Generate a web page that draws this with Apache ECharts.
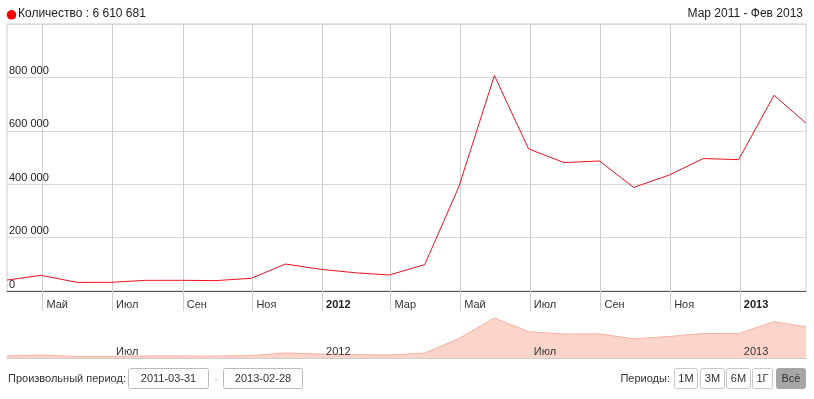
<!DOCTYPE html>
<html>
<head>
<meta charset="utf-8">
<script src="https://cdn.jsdelivr.net/npm/echarts@6/dist/echarts.min.js"></script>
<style>
html, body { margin: 0; padding: 0; background: #fff; }
#chart { width: 814px; height: 399px; }
</style>
</head>
<body>
<div id="chart"></div>
<script>
// месячные значения (конец месяца)
var dates = ['2011-03-31', '2011-04-30', '2011-05-31', '2011-06-30', '2011-07-31', '2011-08-31',
	'2011-09-30', '2011-10-31', '2011-11-30', '2011-12-31', '2012-01-31', '2012-02-29',
	'2012-03-31', '2012-04-30', '2012-05-31', '2012-06-30', '2012-07-31', '2012-08-31',
	'2012-09-30', '2012-10-31', '2012-11-30', '2012-12-31', '2013-01-31', '2013-02-28'];
var counts = [41000, 58700, 32500, 32500, 40000, 40000,
	39000, 47500, 101000, 81000, 68000, 60000,
	99000, 392000, 807000, 532000, 481000, 487000,
	388000, 434000, 496000, 492000, 733000, 628481];

var tickDates = ['2011-05-01', '2011-07-01', '2011-09-01', '2011-11-01', '2012-01-01', '2012-03-01',
	'2012-05-01', '2012-07-01', '2012-09-01', '2012-11-01', '2013-01-01'];
var tickLabels = ['Май', 'Июл', 'Сен', 'Ноя', '2012', 'Мар', 'Май', 'Июл', 'Сен', 'Ноя', '2013'];
var navDates = ['2011-07-01', '2012-01-01', '2012-07-01', '2013-01-01'];
var navLabels = ['Июл', '2012', 'Июл', '2013'];

var rangeFrom = '2011-03-31';
var rangeTo = '2013-02-28';
var periodButtons = ['1M', '3M', '6M', '1Г', 'Всё'];

var FONT = '"Liberation Sans", Arial, sans-serif';

function toTs(s) {
	var p = s.split('-');
	return Date.UTC(+p[0], p[1] - 1, +p[2]);
}
function fmtNum(v) {
	return String(v).replace(/\B(?=(\d{3})+(?!\d))/g, ' ');
}

var total = 0;
for (var i = 0; i < counts.length; i++) total += counts[i];

var seriesData = [];
for (var i = 0; i < dates.length; i++) {
	seriesData.push([toTs(dates[i]), counts[i]]);
}
var tickTs = tickDates.map(toTs);
var navTs = navDates.map(toTs);
var labelMap = {};
tickTs.forEach(function(t, i) { labelMap[t] = tickLabels[i]; });
var navMap = {};
navTs.forEach(function(t, i) { navMap[t] = navLabels[i]; });

var myChart = echarts.init(document.getElementById('chart'));

// шапка и панель снизу
var graphics = [
	{ type: 'circle', shape: { cx: 11.5, cy: 14.8, r: 4.8 }, style: { fill: '#f00' } },
	{ type: 'text', left: 18, top: 8, style: { text: 'Количество : ' + fmtNum(total), font: '12px ' + FONT, fill: '#222' } },
	{ type: 'text', right: 11, top: 8, style: { text: 'Мар 2011 - Фев 2013', font: '12px ' + FONT, fill: '#222' } },
	{ type: 'text', x: 8, y: 379, style: { text: 'Произвольный период:', font: '11px ' + FONT, fill: '#333', verticalAlign: 'middle' } },
	{ type: 'rect', shape: { x: 128.5, y: 368.5, width: 80, height: 20, r: 2 }, style: { fill: '#fff', stroke: '#bbb', lineWidth: 1 } },
	{ type: 'text', x: 168.5, y: 379, style: { text: rangeFrom, font: '11px ' + FONT, fill: '#333', align: 'center', verticalAlign: 'middle' } },
	{ type: 'text', x: 216, y: 379, style: { text: '-', font: '11px ' + FONT, fill: '#bbb', align: 'center', verticalAlign: 'middle' } },
	{ type: 'rect', shape: { x: 223.5, y: 368.5, width: 79, height: 20, r: 2 }, style: { fill: '#fff', stroke: '#bbb', lineWidth: 1 } },
	{ type: 'text', x: 263, y: 379, style: { text: rangeTo, font: '11px ' + FONT, fill: '#333', align: 'center', verticalAlign: 'middle' } },
	{ type: 'text', x: 670, y: 379, style: { text: 'Периоды:', font: '11px ' + FONT, fill: '#333', align: 'right', verticalAlign: 'middle' } }
];
var btnX = [674.5, 700.5, 726.5, 752.5, 776.5];
var btnW = [23, 24, 24, 20, 29];
for (var b = 0; b < periodButtons.length; b++) {
	var active = b === periodButtons.length - 1;
	graphics.push({ type: 'rect', shape: { x: btnX[b], y: 368.5, width: btnW[b], height: 20, r: 2 },
		style: { fill: active ? '#a6a6a6' : '#fff', stroke: active ? '#a6a6a6' : '#c8c8c8', lineWidth: 1 } });
	graphics.push({ type: 'text', x: btnX[b] + btnW[b] / 2, y: 379,
		style: { text: periodButtons[b], font: '11px ' + FONT, fill: '#333', align: 'center', verticalAlign: 'middle' } });
}

var option = {
	backgroundColor: '#fff',
	animation: false,
	textStyle: { fontFamily: FONT },
	grid: [
		{ left: 7, right: 8, top: 24, bottom: 108, show: true, borderColor: '#ccc', borderWidth: 1 },
		{ left: 7, right: 8, top: 318, bottom: 41 }
	],
	xAxis: [{
		type: 'value',
		gridIndex: 0,
		min: toTs(rangeFrom),
		max: toTs(rangeTo),
		axisLine: { lineStyle: { color: '#555' } },
		axisTick: { show: true, length: 20, customValues: tickTs, lineStyle: { color: '#d0d0d0' } },
		splitLine: { show: true, lineStyle: { color: '#d0d0d0' } },
		axisLabel: {
			customValues: tickTs,
			hideOverlap: false,
			align: 'left',
			padding: [0, 0, 0, 4],
			margin: 8,
			color: '#333',
			fontSize: 11,
			formatter: function(v) {
				var s = labelMap[v] || '';
				return /^\d{4}$/.test(s) ? '{b|' + s + '}' : s;
			},
			rich: { b: { fontWeight: 'bold', fontSize: 11, color: '#222', fontFamily: FONT } }
		}
	}, {
		type: 'value',
		gridIndex: 1,
		z: 5,
		min: toTs(rangeFrom),
		max: toTs(rangeTo),
		axisLine: { lineStyle: { color: '#ccc' } },
		axisTick: { show: false, customValues: navTs },
		splitLine: { show: false },
		axisLabel: {
			customValues: navTs,
			hideOverlap: false,
			align: 'left',
			padding: [0, 0, 0, 4],
			margin: -12,
			color: '#333',
			fontSize: 11,
			formatter: function(v) { return navMap[v] || ''; }
		}
	}],
	yAxis: [{
		type: 'value',
		gridIndex: 0,
		min: 0,
		max: 1000000,
		interval: 200000,
		axisLine: { show: false },
		axisTick: { show: false },
		splitLine: { lineStyle: { color: '#d8d8d8' } },
		axisLabel: {
			inside: true,
			showMaxLabel: false,
			margin: 2,
			verticalAlign: 'bottom',
			padding: [0, 0, 1, 0],
			color: '#222',
			fontSize: 11,
			formatter: fmtNum
		}
	}, {
		type: 'value',
		gridIndex: 1,
		min: 0,
		max: 'dataMax',
		show: false
	}],
	series: [{
		type: 'line',
		xAxisIndex: 0,
		yAxisIndex: 0,
		data: seriesData,
		symbol: 'none',
		lineStyle: { color: '#ee1122', width: 1 }
	}, {
		type: 'line',
		xAxisIndex: 1,
		yAxisIndex: 1,
		data: seriesData,
		symbol: 'none',
		z: 1,
		lineStyle: { color: '#f6b0a3', width: 1 },
		areaStyle: { color: '#fdd4ca', opacity: 1 }
	}],
	graphic: graphics
};
myChart.setOption(option);
</script>
</body>
</html>
